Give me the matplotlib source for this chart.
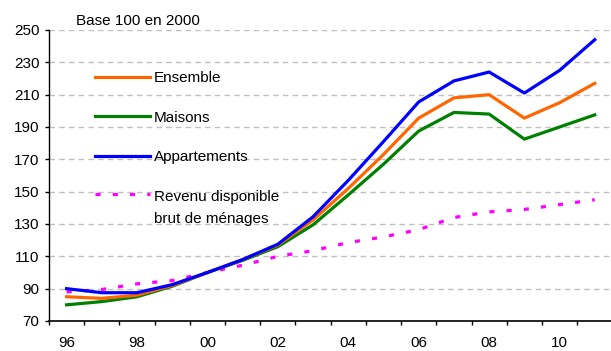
import matplotlib
matplotlib.use("Agg")
import matplotlib.pyplot as plt
import numpy as np

plt.rcParams['font.family'] = ['Liberation Sans', 'DejaVu Sans']

years = list(range(1996, 2012))
ensemble = [85, 84, 86, 92, 100, 108, 117, 132.5, 152, 173, 195.5, 208, 210, 195.5, 205, 217]
maisons = [80, 82, 85, 91.5, 100, 107.5, 116, 129.5, 148, 167, 187.5, 199, 198, 182.5, 190, 197.5]
appartements = [90, 87.5, 87.5, 92.5, 100, 108, 117.5, 134.5, 157, 181, 205.5, 218.5, 224, 211, 225, 244]
revenu = [88, 89.5, 93, 95, 100, 104.5, 110, 113.5, 118.5, 122, 126.5, 134, 137.5, 139, 142, 145]
tick_labels = ["96", "98", "00", "02", "04", "06", "08", "10"]

W, H = 611, 351
fig = plt.figure(figsize=(W / 100, H / 100), dpi=100)
ax = fig.add_axes([49 / W, 30 / H, 1 - 49 / W, 291 / H])

x = np.arange(len(years))
l_rev, = ax.plot(x, revenu, color='#FF00FF', lw=2.3, dashes=(1.6, 3.8),
                 label="Revenu disponible\nbrut de ménages")
l_mai, = ax.plot(x, maisons, color='#008000', lw=2.3, label="Maisons")
l_ens, = ax.plot(x, ensemble, color='#FF6600', lw=2.3, label="Ensemble")
l_app, = ax.plot(x, appartements, color='#0000FF', lw=2.3, label="Appartements")

ax.set_ylim(70, 250)
ax.set_yticks(np.arange(70, 251, 20))
ax.set_xlim(-0.5, (W - 66) / 35.25)

# year labels centred on categories, tick marks on the boundaries
ax.set_xticks(x[:15:2])
ax.set_xticklabels(tick_labels)
ax.set_xticks(np.arange(-0.5, 15, 1), minor=True)
ax.tick_params(axis='x', which='major', length=0, pad=11, labelsize=11)
ax.tick_params(axis='x', which='minor', length=3, width=1, direction='out')
ax.tick_params(axis='y', length=3, width=1, pad=4, labelsize=11)

ax.grid(axis='y', color='#C0C0C0', lw=1, dashes=(4, 3))
ax.set_axisbelow(True)
for s in ['top', 'right']:
    ax.spines[s].set_visible(False)
ax.spines['left'].set_linewidth(1)
ax.spines['bottom'].set_linewidth(1.2)

leg = ax.legend(handles=[l_ens, l_mai, l_app, l_rev], loc='upper left',
                bbox_to_anchor=(95 / W, 1 - 71 / H), bbox_transform=fig.transFigure,
                frameon=False, borderpad=0, borderaxespad=0, fontsize=11,
                handlelength=3.6, handletextpad=0.25, labelspacing=1.68)
for t in leg.get_texts():
    t.set_linespacing(1.75)
# keep the dotted key level with the first line of its two-line label
h_rev = leg.legend_handles[3]
h_rev.set_ydata(np.asarray(h_rev.get_ydata()) + 10)

fig.text(76 / W, 1 - 21 / H, "Base 100 en 2000", fontsize=11, va='center', ha='left')

fig.savefig("out.png", dpi=100)
